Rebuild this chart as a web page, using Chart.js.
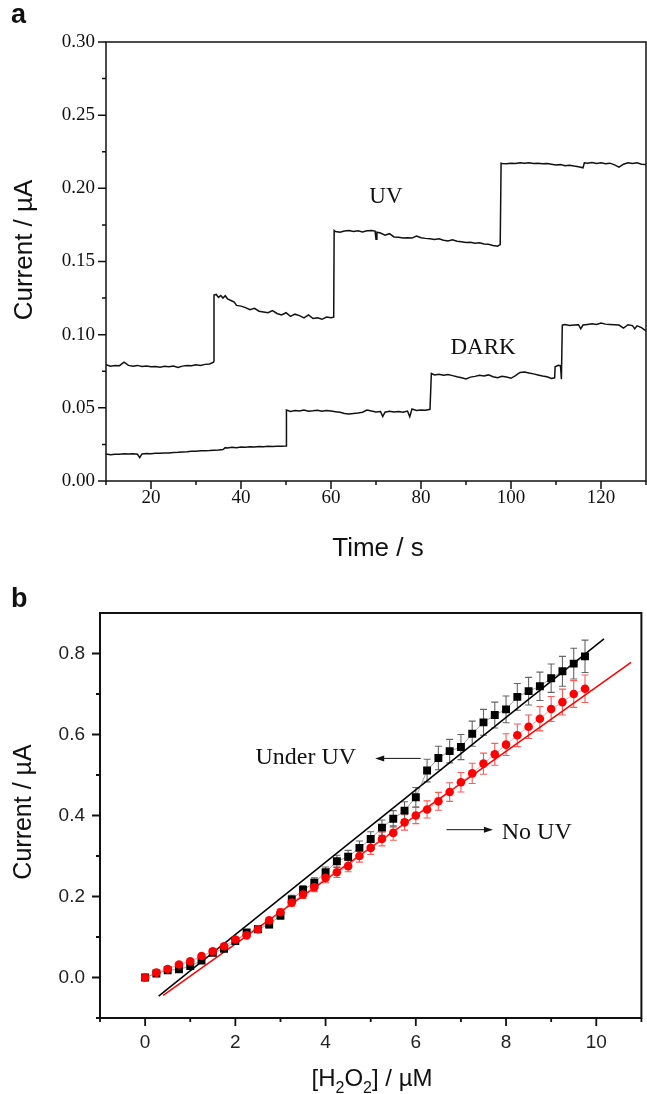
<!DOCTYPE html>
<html>
<head>
<meta charset="utf-8">
<script src="https://cdn.jsdelivr.net/npm/chart.js@4.4.1/dist/chart.umd.min.js"></script>
<style>
  body { margin: 0; background: #fff; }
  canvas { display: block; }
</style>
</head>
<body>
<canvas id="chartA" width="647" height="560"></canvas>
<canvas id="chartB" width="647" height="534"></canvas>
<script>
// ---- panel a: current vs time ----
const uvTime = [10, 11, 12, 13, 14, 15, 16, 17, 18, 19, 20, 21, 22, 23, 24, 25, 26, 27, 28, 29, 30, 31, 32, 33, 33.9, 34, 34,
    34.5, 35, 35.5, 36, 36.5, 37, 38, 38.5, 39, 40, 41, 42, 43, 44, 45, 46, 47, 48, 49, 50, 51, 52, 53, 54, 55, 56, 57, 58, 59, 60, 60.6, 60.7,
    61, 62, 63, 64, 65, 66, 67, 68, 69, 69.8, 70, 70.2, 71, 72, 73, 74, 75, 76, 77, 78, 79, 80, 81, 82, 83, 84, 85, 86, 87, 88, 89, 90,
    91, 92, 93, 94, 95, 96, 97, 97.6, 97.8, 98, 99, 100, 101, 102, 103, 104, 105, 106, 107, 108, 109, 110, 111, 112, 113, 114, 115, 116,
    116.3, 117, 118, 119, 120, 121, 122, 123, 124, 125, 126, 127, 128, 129, 130];
const uvCurrent = [0.0795, 0.0785, 0.0790, 0.0788, 0.0812, 0.0790, 0.0785, 0.0790, 0.0782, 0.0785, 0.0780, 0.0783, 0.0778, 0.0784, 0.0780,
    0.0786, 0.0776, 0.0785, 0.0790, 0.0787, 0.0795, 0.0790, 0.0797, 0.0800, 0.0812, 0.0822, 0.1270,
    0.1275, 0.1255, 0.1268, 0.1250, 0.1266, 0.1245, 0.1230, 0.1222, 0.1200, 0.1195, 0.1185, 0.1170, 0.1180, 0.1160, 0.1155, 0.1150, 0.1165,
    0.1145, 0.1135, 0.1150, 0.1125, 0.1140, 0.1130, 0.1115, 0.1135, 0.1110, 0.1115, 0.1105, 0.1120, 0.1115, 0.1120, 0.1712,
    0.1705, 0.1700, 0.1708, 0.1712, 0.1705, 0.1710, 0.1702, 0.1710, 0.1712, 0.1708, 0.1652, 0.1700, 0.1695, 0.1680, 0.1690, 0.1668, 0.1665,
    0.1660, 0.1663, 0.1660, 0.1674, 0.1662, 0.1658, 0.1655, 0.1650, 0.1655, 0.1645, 0.1640, 0.1648, 0.1638, 0.1635, 0.1630,
    0.1632, 0.1625, 0.1628, 0.1620, 0.1618, 0.1610, 0.1605, 0.1615, 0.2172, 0.2170, 0.2168, 0.2172, 0.2170, 0.2174, 0.2171, 0.2175, 0.2170,
    0.2172, 0.2168, 0.2170, 0.2165, 0.2160, 0.2162, 0.2155, 0.2158, 0.2152, 0.2148, 0.2140,
    0.2175, 0.2172, 0.2176, 0.2170, 0.2174, 0.2168, 0.2172, 0.2160, 0.2145, 0.2165, 0.2175, 0.2170, 0.2174, 0.2165, 0.2162];

const darkTime = [10, 11, 12, 13, 14, 15, 16, 17, 17.5, 18, 19, 20, 21, 22, 23, 24, 25, 26, 27, 28, 29, 30, 31, 32, 33, 34, 35, 36, 36.5,
    37, 38, 39, 40, 41, 42, 43, 44, 45, 46, 47, 48, 49, 50, 50.1,
    51, 52, 53, 54, 55, 56, 57, 58, 59, 60, 61, 62, 63, 64, 65, 66, 67, 68, 69, 70, 71, 71.5, 72, 73, 74, 75, 76, 77, 77.5, 78, 79, 80,
    81, 82, 82.3, 83, 84, 85, 86, 87, 88, 89, 90, 91, 92, 93, 94, 95, 96, 97, 98, 99, 100, 101, 102, 103, 104, 105, 106, 107, 108, 109,
    109.7, 109.8, 110.5, 111, 111.2, 111.4, 112, 113, 114, 115, 115.5, 116, 117, 118, 119, 120, 121, 122, 123, 124, 125, 126, 127, 127.5,
    128, 129, 130];
const darkCurrent = [0.0185, 0.0180, 0.0183, 0.0182, 0.0186, 0.0184, 0.0187, 0.0183, 0.0160, 0.0185, 0.0188, 0.0186, 0.0190, 0.0189,
    0.0192, 0.0191, 0.0195, 0.0196, 0.0198, 0.0200, 0.0203, 0.0204, 0.0206, 0.0207, 0.0208, 0.0210, 0.0212, 0.0215, 0.0228,
    0.0226, 0.0230, 0.0228, 0.0232, 0.0230, 0.0234, 0.0233, 0.0235, 0.0234, 0.0237, 0.0236, 0.0238, 0.0237, 0.0240, 0.0485,
    0.0475, 0.0482, 0.0478, 0.0485, 0.0477, 0.0480, 0.0484, 0.0476, 0.0481, 0.0478, 0.0474, 0.0470, 0.0462, 0.0458, 0.0462, 0.0465,
    0.0470, 0.0485, 0.0478, 0.0472, 0.0475, 0.0440, 0.0470, 0.0476, 0.0472, 0.0475, 0.0470, 0.0478, 0.0440, 0.0492, 0.0482, 0.0486,
    0.0484, 0.0490, 0.0735, 0.0725, 0.0730, 0.0722, 0.0728, 0.0720, 0.0712, 0.0705, 0.0698, 0.0710, 0.0715, 0.0722, 0.0718, 0.0725,
    0.0712, 0.0705, 0.0715, 0.0710, 0.0702, 0.0720, 0.0742, 0.0745, 0.0738, 0.0732, 0.0725, 0.0718, 0.0712, 0.0700,
    0.0705, 0.0780, 0.0790, 0.0788, 0.0695, 0.1065, 0.1070, 0.1062, 0.1066, 0.1068, 0.1040, 0.1066, 0.1070, 0.1074, 0.1070, 0.1080,
    0.1072, 0.1070, 0.1068, 0.1066, 0.1045, 0.1068, 0.1062, 0.1040, 0.1060, 0.1048, 0.1025];

const timeTicks = [20, 40, 60, 80, 100, 120];
const timeMinor = [10, 30, 50, 70, 90, 110, 130];
const currentTicksA = [0, 0.05, 0.10, 0.15, 0.20, 0.25, 0.30];
const currentMinorA = [0.025, 0.075, 0.125, 0.175, 0.225, 0.275];

// ---- panel b: current vs H2O2 concentration ----
const conc = [0, 0.25, 0.5, 0.75, 1, 1.25, 1.5, 1.75, 2, 2.25, 2.5, 2.75, 3, 3.25, 3.5, 3.75, 4, 4.25, 4.5, 4.75,
    5, 5.25, 5.5, 5.75, 6, 6.25, 6.5, 6.75, 7, 7.25, 7.5, 7.75, 8, 8.25, 8.5, 8.75, 9, 9.25, 9.5, 9.75];
const underUv = [0.000, 0.010, 0.018, 0.020, 0.028, 0.042, 0.061, 0.071, 0.090, 0.111, 0.119, 0.131, 0.153, 0.193, 0.216, 0.234,
    0.260, 0.287, 0.298, 0.320, 0.342, 0.370, 0.392, 0.412, 0.445, 0.511, 0.542, 0.559, 0.569, 0.602, 0.630, 0.648, 0.662, 0.693,
    0.707, 0.719, 0.739, 0.756, 0.775, 0.793];
const underUvErr = [0.003, 0.003, 0.004, 0.004, 0.005, 0.005, 0.006, 0.006, 0.007, 0.007, 0.008, 0.008, 0.009, 0.010, 0.011, 0.012,
    0.013, 0.015, 0.016, 0.017, 0.018, 0.019, 0.020, 0.022, 0.024, 0.028, 0.029, 0.029, 0.031, 0.031, 0.032, 0.032, 0.033, 0.033,
    0.034, 0.035, 0.035, 0.037, 0.038, 0.040];
const noUv = [0.000, 0.012, 0.021, 0.032, 0.040, 0.053, 0.065, 0.077, 0.094, 0.104, 0.119, 0.141, 0.161, 0.185, 0.205, 0.223,
    0.246, 0.260, 0.275, 0.300, 0.320, 0.342, 0.357, 0.383, 0.400, 0.415, 0.435, 0.458, 0.482, 0.504, 0.528, 0.551, 0.575, 0.598,
    0.619, 0.639, 0.663, 0.680, 0.700, 0.713];
const noUvErr = [0.003, 0.003, 0.003, 0.004, 0.004, 0.005, 0.005, 0.005, 0.006, 0.006, 0.007, 0.007, 0.008, 0.009, 0.010, 0.011,
    0.012, 0.013, 0.014, 0.015, 0.016, 0.017, 0.018, 0.019, 0.020, 0.021, 0.022, 0.023, 0.024, 0.025, 0.026, 0.027, 0.027, 0.028,
    0.029, 0.030, 0.031, 0.032, 0.033, 0.034];
// linear fits (end points)
const uvFitX = [0.3, 10.17];
const uvFitY = [-0.046, 0.836];
const noUvFitX = [0.4, 10.77];
const noUvFitY = [-0.044, 0.778];

const concTicks = [0, 2, 4, 6, 8, 10];
const concMinor = [-1, 1, 3, 5, 7, 9, 11];
const currentTicksB = [0, 0.2, 0.4, 0.6, 0.8];
const currentMinorB = [-0.1, 0.1, 0.3, 0.5, 0.7];

const SERIF = '"Liberation Serif", "Times New Roman", serif';
const SANS = '"Liberation Sans", Arial, sans-serif';

const toPoints = (xs, ys) => xs.map((x, i) => ({ x: x, y: ys[i] }));

/**
 * Box frame plus outward major / minor tick marks
 */
const framePlugin = {
    id: 'frame',
    afterDraw(chart, args, opts) {
        const { ctx, chartArea: area, scales } = chart;
        ctx.save();
        ctx.strokeStyle = '#111';
        ctx.lineWidth = opts.width;
        ctx.strokeRect(area.left, area.top, area.right - area.left, area.bottom - area.top);
        ctx.lineWidth = opts.tickWidth;
        ctx.beginPath();
        const xTick = (v, len) => {
            const p = scales.x.getPixelForValue(v);
            ctx.moveTo(p, area.bottom);
            ctx.lineTo(p, area.bottom + len);
        };
        const yTick = (v, len) => {
            const p = scales.y.getPixelForValue(v);
            ctx.moveTo(area.left, p);
            ctx.lineTo(area.left - len, p);
        };
        opts.xMajor.forEach(v => xTick(v, opts.major));
        opts.xMinor.forEach(v => xTick(v, opts.minor));
        opts.yMajor.forEach(v => yTick(v, opts.major));
        opts.yMinor.forEach(v => yTick(v, opts.minor));
        ctx.stroke();
        ctx.restore();
    }
};

/**
 * Vertical error bars for datasets carrying an `errors` array
 */
const errorBarPlugin = {
    id: 'errorBars',
    beforeDatasetsDraw(chart) {
        const { ctx, scales: { x, y } } = chart;
        ctx.save();
        chart.data.datasets.forEach(ds => {
            if (!ds.errors) return;
            ctx.strokeStyle = ds.errorColor;
            ctx.lineWidth = 1.1;
            ctx.beginPath();
            ds.data.forEach((pt, i) => {
                const px = x.getPixelForValue(pt.x);
                const top = y.getPixelForValue(pt.y + ds.errors[i]);
                const bot = y.getPixelForValue(pt.y - ds.errors[i]);
                ctx.moveTo(px, top);
                ctx.lineTo(px, bot);
                ctx.moveTo(px - 3.5, top);
                ctx.lineTo(px + 3.5, top);
                ctx.moveTo(px - 3.5, bot);
                ctx.lineTo(px + 3.5, bot);
            });
            ctx.stroke();
        });
        ctx.restore();
    }
};

/**
 * Free text (axis titles, panel letters, curve labels) and arrows
 */
const notesPlugin = {
    id: 'notes',
    afterDraw(chart, args, opts) {
        const { ctx, scales: { x, y } } = chart;
        ctx.save();
        ctx.fillStyle = '#111';
        ctx.strokeStyle = '#111';
        (opts.items || []).forEach(item => {
            const px = item.data ? x.getPixelForValue(item.x) : item.x;
            const py = item.data ? y.getPixelForValue(item.y) : item.y;
            if (item.arrow) {
                const x2 = x.getPixelForValue(item.x2);
                const dir = Math.sign(x2 - px);
                ctx.lineWidth = 1;
                ctx.beginPath();
                ctx.moveTo(px, py);
                ctx.lineTo(x2 - dir * 6, py);
                ctx.stroke();
                ctx.beginPath();
                ctx.moveTo(x2, py);
                ctx.lineTo(x2 - dir * 9, py - 3);
                ctx.lineTo(x2 - dir * 9, py + 3);
                ctx.closePath();
                ctx.fill();
                return;
            }
            ctx.font = item.font;
            ctx.textBaseline = item.baseline || 'middle';
            ctx.translate(px, py);
            if (item.rotate) ctx.rotate(item.rotate);
            if (item.parts) {
                // rich text with subscripts, centred
                const subFont = item.subFont;
                let total = 0;
                item.parts.forEach(p => {
                    ctx.font = p.sub ? subFont : item.font;
                    total += ctx.measureText(p.t).width;
                });
                let cx = -total / 2;
                ctx.textAlign = 'left';
                item.parts.forEach(p => {
                    ctx.font = p.sub ? subFont : item.font;
                    ctx.fillText(p.t, cx, p.sub ? 7 : 0);
                    cx += ctx.measureText(p.t).width;
                });
            } else {
                ctx.textAlign = item.align || 'center';
                ctx.fillText(item.text, 0, 0);
            }
            ctx.setTransform(1, 0, 0, 1, 0, 0);
        });
        ctx.restore();
    }
};

Chart.register(framePlugin, errorBarPlugin, notesPlugin);

const fixedTicks = values => scale => { scale.ticks = values.map(v => ({ value: v })); };

// Panel a
new Chart(document.getElementById('chartA'), {
    type: 'scatter',
    data: {
        datasets: [{
            label: 'UV',
            data: toPoints(uvTime, uvCurrent),
            showLine: true,
            borderColor: '#111',
            borderWidth: 1.5,
            pointRadius: 0,
            tension: 0
        }, {
            label: 'DARK',
            data: toPoints(darkTime, darkCurrent),
            showLine: true,
            borderColor: '#111',
            borderWidth: 1.5,
            pointRadius: 0,
            tension: 0
        }]
    },
    options: {
        responsive: false,
        animation: false,
        events: [],
        layout: { padding: { top: 42, right: 1, left: 0, bottom: 0 } },
        plugins: {
            legend: { display: false },
            tooltip: { enabled: false },
            frame: {
                width: 1.5, tickWidth: 1.5, major: 8, minor: 4,
                xMajor: timeTicks, xMinor: timeMinor, yMajor: currentTicksA, yMinor: currentMinorA
            },
            notes: {
                items: [
                    { text: 'UV', data: true, x: 72.2, y: 0.194, font: '23px ' + SERIF },
                    { text: 'DARK', data: true, x: 93.8, y: 0.091, font: '23px ' + SERIF },
                    { text: 'Current / \u00b5A', x: 25, y: 250, rotate: -Math.PI / 2, font: '26px ' + SANS },
                    { text: 'Time / s', x: 378, y: 556, baseline: 'alphabetic', font: '26px ' + SANS },
                    { text: 'a', x: 11, y: 23, align: 'left', baseline: 'alphabetic', font: 'bold 27px ' + SANS }
                ]
            }
        },
        scales: {
            x: {
                type: 'linear',
                min: 10,
                max: 130,
                afterBuildTicks: fixedTicks(timeTicks),
                afterFit: scale => { scale.height = 79; },
                grid: { display: false, drawTicks: false },
                border: { display: false },
                ticks: { font: { family: SERIF, size: 19 }, color: '#111', padding: 6, maxRotation: 0, autoSkip: false }
            },
            y: {
                type: 'linear',
                min: 0,
                max: 0.3,
                afterBuildTicks: fixedTicks(currentTicksA),
                afterFit: scale => { scale.width = 106; },
                grid: { display: false, drawTicks: false },
                border: { display: false },
                ticks: {
                    font: { family: SERIF, size: 19 }, color: '#111', padding: 11, autoSkip: false,
                    callback: v => v.toFixed(2)
                }
            }
        }
    }
});

// Panel b
new Chart(document.getElementById('chartB'), {
    type: 'scatter',
    data: {
        datasets: [{
            label: 'No UV',
            data: toPoints(conc, noUv),
            errors: noUvErr,
            errorColor: '#ff5a5a',
            showLine: true,
            borderColor: 'rgba(255,90,90,0.55)',
            borderWidth: 1,
            pointStyle: 'circle',
            pointRadius: 4.3,
            pointBackgroundColor: '#ff0000',
            pointBorderColor: '#ff0000',
            pointBorderWidth: 0,
            order: 1
        }, {
            label: 'Under UV',
            data: toPoints(conc, underUv),
            errors: underUvErr,
            errorColor: '#666',
            showLine: true,
            borderColor: 'rgba(80,80,80,0.55)',
            borderWidth: 1,
            pointStyle: 'rect',
            pointRadius: 5.6,
            pointBackgroundColor: '#000',
            pointBorderColor: '#000',
            pointBorderWidth: 0,
            order: 2
        }, {
            label: 'Under UV fit',
            data: toPoints(uvFitX, uvFitY),
            showLine: true,
            borderColor: '#000',
            borderWidth: 1.5,
            pointRadius: 0,
            order: 3
        }, {
            label: 'No UV fit',
            data: toPoints(noUvFitX, noUvFitY),
            showLine: true,
            borderColor: '#ff0000',
            borderWidth: 1.5,
            pointRadius: 0,
            order: 4
        }]
    },
    options: {
        responsive: false,
        animation: false,
        events: [],
        layout: { padding: { top: 53, right: 1, left: 0, bottom: 0 } },
        plugins: {
            legend: { display: false },
            tooltip: { enabled: false },
            frame: {
                width: 2, tickWidth: 1.8, major: 8, minor: 4,
                xMajor: concTicks, xMinor: concMinor, yMajor: currentTicksB, yMinor: currentMinorB
            },
            notes: {
                items: [
                    { text: 'Under UV', data: true, x: 3.56, y: 0.543, font: '24px ' + SERIF },
                    { arrow: true, data: true, x: 6.11, x2: 5.10, y: 0.541 },
                    { text: 'No UV', data: true, x: 8.68, y: 0.358, font: '24px ' + SERIF },
                    { arrow: true, data: true, x: 6.68, x2: 7.71, y: 0.365 },
                    { text: 'Current / \u00b5A', x: 24, y: 252, rotate: -Math.PI / 2, font: '25px ' + SANS },
                    {
                        parts: [{ t: '[H' }, { t: '2', sub: true }, { t: 'O' }, { t: '2', sub: true }, { t: '] / \u00b5M' }],
                        x: 372, y: 526, baseline: 'alphabetic', font: '24px ' + SANS, subFont: '16px ' + SANS
                    },
                    { text: 'b', x: 11, y: 47, align: 'left', baseline: 'alphabetic', font: 'bold 27px ' + SANS }
                ]
            }
        },
        scales: {
            x: {
                type: 'linear',
                min: -1,
                max: 11,
                afterBuildTicks: fixedTicks(concTicks),
                afterFit: scale => { scale.height = 76; },
                grid: { display: false, drawTicks: false },
                border: { display: false },
                ticks: { font: { family: SANS, size: 19 }, color: '#222', padding: 13, maxRotation: 0, autoSkip: false }
            },
            y: {
                type: 'linear',
                min: -0.1,
                max: 0.9,
                afterBuildTicks: fixedTicks(currentTicksB),
                afterFit: scale => { scale.width = 100; },
                grid: { display: false, drawTicks: false },
                border: { display: false },
                ticks: {
                    font: { family: SANS, size: 19 }, color: '#222', padding: 15, autoSkip: false,
                    callback: v => v.toFixed(1)
                }
            }
        }
    }
});
</script>
</body>
</html>
